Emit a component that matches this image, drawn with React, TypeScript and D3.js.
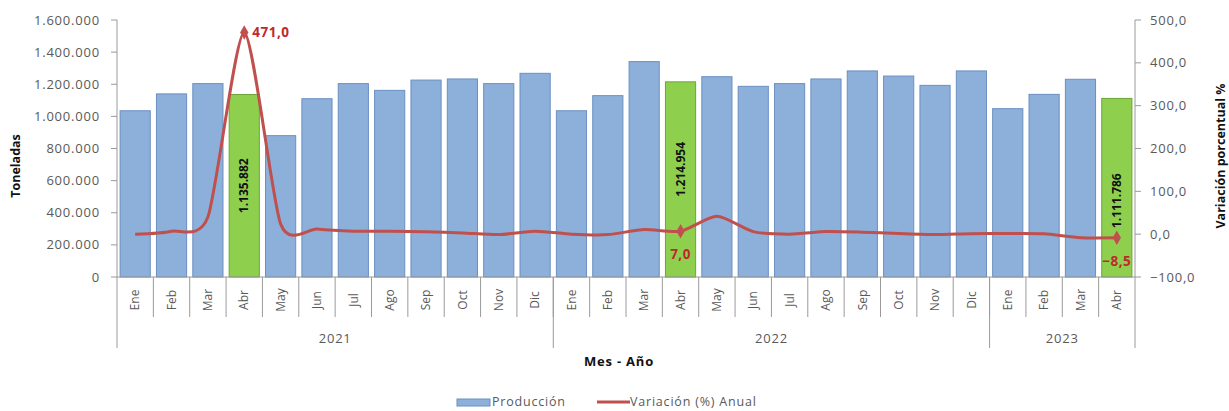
import React from "react";
import * as d3 from "d3";

const months = ["Ene","Feb","Mar","Abr","May","Jun","Jul","Ago","Sep","Oct","Nov","Dic","Ene","Feb","Mar","Abr","May","Jun","Jul","Ago","Sep","Oct","Nov","Dic","Ene","Feb","Mar","Abr"];
const years = [
  { label: "2021", start: 0, end: 11 },
  { label: "2022", start: 12, end: 23 },
  { label: "2023", start: 24, end: 27 },
];
const produccion = [1035000,1140000,1204000,1135882,880000,1110000,1204000,1162000,1226000,1233000,1204000,1268000,1035000,1129000,1341000,1214954,1247000,1187000,1204000,1233000,1283000,1251000,1193000,1283000,1048000,1137000,1231000,1111786];
const variacion = [0,7,40,471.0,24,12,7,7,5.5,3,-1,7,0,-1,11,7.0,41.7,6,0,6,4.6,1.5,-0.9,1.2,1.3,0.7,-8.2,-8.5];
const highlighted = [3, 15, 27];
const barLabelOffset = [0, -10, 13];
const leftTicks = [0,200000,400000,600000,800000,1000000,1200000,1400000,1600000];
const rightTicks = [-100,0,100,200,300,400,500];

const W = 1229, H = 411;
const left = 117, right = 1135, top = 20, bottom = 277;
const FONT = "'Open Sans', 'Noto Sans', sans-serif";
const GRAY = "#595959";
const AXIS = "#9a9a9a";
const BLUE = "#8DB0DA";
const BLUE_STROKE = "#6A8FC2";
const GREEN = "#8ED04E";
const GREEN_STROKE = "#6AA538";
const RED = "#C0504D";
const RED_TEXT = "#C0282B";
const LS = 0.8;

const loc = d3.formatLocale({ decimal: ",", thousands: ".", grouping: [3], currency: ["", ""] });
const fmtInt = loc.format(",.0f");
const fmtPct = loc.format(".1f");

export default function App() {
  const x = d3.scaleBand<number>().domain(d3.range(months.length)).range([left, right]).paddingInner(0.17).paddingOuter(0.085);
  const yL = d3.scaleLinear().domain([0, 1600000]).range([bottom, top]);
  const yR = d3.scaleLinear().domain([-100, 500]).range([bottom, top]);
  const step = x.step();
  const cx = (i: number) => (x(i) as number) + x.bandwidth() / 2;
  const bandEdge = (i: number) => left + step * i;

  const line = d3.line<number>().x((_, i) => cx(i)).y((d) => yR(d)).curve(d3.curveCardinal.tension(0.3));
  const diamond = d3.symbol().type(d3.symbolDiamond).size(60)();

  return (
    <svg width={W} height={H} style={{ position: "absolute", left: 0, top: 0, fontFamily: FONT }}>
      <rect width={W} height={H} fill="#fff" />
      {/* bars */}
      {produccion.map((v, i) => {
        const hl = highlighted.includes(i);
        return (
          <rect key={i} x={x(i)} y={yL(v)} width={x.bandwidth()} height={bottom - yL(v)}
            fill={hl ? GREEN : BLUE} stroke={hl ? GREEN_STROKE : BLUE_STROKE} strokeWidth={1} />
        );
      })}
      {/* bar labels */}
      {highlighted.map((i, k) => {
        const v = produccion[i];
        const my = (yL(v) + bottom) / 2 + barLabelOffset[k];
        return (
          <text key={"bl" + i} transform={`translate(${cx(i)},${my}) rotate(-90)`} textAnchor="middle" dy="0.35em"
            fontSize={12} fontWeight="bold" fill="#111">{fmtInt(v)}</text>
        );
      })}
      {/* left axis */}
      <line x1={left} x2={left} y1={top} y2={348} stroke={AXIS} />
      {leftTicks.map((t) => (
        <g key={"l" + t}>
          <line x1={left - 6} x2={left} y1={yL(t)} y2={yL(t)} stroke={AXIS} />
          <text x={100} y={yL(t)} dy="0.35em" textAnchor="end" fontSize={13} letterSpacing={LS} fill={GRAY}>{fmtInt(t)}</text>
        </g>
      ))}
      {/* right axis */}
      <line x1={right} x2={right} y1={top} y2={bottom} stroke={AXIS} />
      {rightTicks.map((t) => (
        <g key={"r" + t}>
          <line x1={right} x2={right + 6} y1={yR(t)} y2={yR(t)} stroke={AXIS} />
          <text x={1150} y={yR(t)} dy="0.35em" textAnchor="start" fontSize={13} letterSpacing={LS} fill={GRAY}>{fmtPct(t)}</text>
        </g>
      ))}
      {/* category axis */}
      <line x1={left} x2={right} y1={bottom} y2={bottom} stroke={AXIS} />
      {months.map((m, i) => (
        <g key={"m" + i}>
          {i > 0 && <line x1={bandEdge(i)} x2={bandEdge(i)} y1={bottom} y2={317} stroke={AXIS} />}
          <text transform={`translate(${cx(i)},300) rotate(-90)`} textAnchor="middle" dy="0.35em" fontSize={12} fill={GRAY}>{m}</text>
        </g>
      ))}
      {years.map((yr) => (
        <g key={yr.label}>
          <line x1={bandEdge(yr.end + 1)} x2={bandEdge(yr.end + 1)} y1={bottom} y2={348} stroke={AXIS} />
          <text x={(bandEdge(yr.start) + bandEdge(yr.end + 1)) / 2} y={338} dy="0.35em" textAnchor="middle" fontSize={13} letterSpacing={LS} fill={GRAY}>{yr.label}</text>
        </g>
      ))}
      {/* line */}
      <path d={line(variacion) ?? ""} fill="none" stroke={RED} strokeWidth={3} strokeLinejoin="round" />
      {highlighted.map((i) => (
        <path key={"d" + i} d={diamond ?? ""} transform={`translate(${cx(i)},${yR(variacion[i])})`} fill={RED} />
      ))}
      {/* line labels */}
      <text x={cx(highlighted[0]) + 8} y={yR(variacion[highlighted[0]])} dy="0.35em" fontSize={13.5} letterSpacing={0.5} fontWeight="bold" fill={RED_TEXT}>{fmtPct(variacion[highlighted[0]])}</text>
      {highlighted.slice(1).map((i) => (
        <text key={"ll" + i} x={cx(i)} y={yR(variacion[i]) + 23} dy="0.35em" textAnchor="middle" fontSize={13.5} letterSpacing={0.5} fontWeight="bold" fill={RED_TEXT}>{fmtPct(variacion[i])}</text>
      ))}
      {/* axis titles */}
      <text transform="translate(16,166) rotate(-90)" textAnchor="middle" dy="0.35em" fontSize={12.5} fontWeight="bold" fill="#111">Toneladas</text>
      <text transform="translate(1221,156) rotate(-90)" textAnchor="middle" dy="0.35em" fontSize={12.5} fontWeight="bold" fill="#111">Variación porcentual %</text>
      <text x={619} y={361} dy="0.35em" textAnchor="middle" fontSize={13} letterSpacing={0.8} fontWeight="bold" fill="#111">Mes - Año</text>
      {/* legend */}
      <rect x={457} y={399} width={33} height={7} fill={BLUE} stroke={BLUE_STROKE} />
      <text x={492} y={402} dy="0.35em" fontSize={12.5} letterSpacing={LS} fill={GRAY}>Producción</text>
      <line x1={597} x2={630} y1={402} y2={402} stroke={RED} strokeWidth={3} />
      <text x={630} y={402} dy="0.35em" fontSize={12.5} letterSpacing={LS} fill={GRAY}>Variación (%) Anual</text>
    </svg>
  );
}
